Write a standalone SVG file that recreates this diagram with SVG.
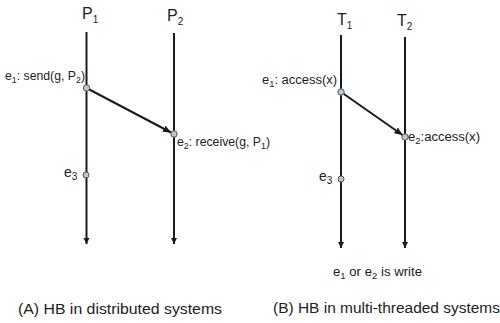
<svg xmlns="http://www.w3.org/2000/svg" width="500" height="323" viewBox="0 0 500 323">
<defs>
<marker id="ah" markerUnits="userSpaceOnUse" markerWidth="8" markerHeight="8" refX="6" refY="3" orient="auto"><path d="M0,0 L6,3 L0,6 z" fill="#1a1a1a"/></marker>
<marker id="ah2" markerUnits="userSpaceOnUse" markerWidth="10" markerHeight="10" refX="8" refY="3.5" orient="auto"><path d="M0,0 L8,3.5 L0,7 z" fill="#1a1a1a"/></marker>
<style>
text{font-family:"Liberation Sans",Arial,sans-serif;fill:#222}
.lbl{font-size:12.5px}
.hd{font-size:16px}
.cap{font-size:14px}
.sub{font-size:9px}
.hsub{font-size:10px}
.life{stroke:#1a1a1a;stroke-width:2;fill:none}
.msg{stroke:#1a1a1a;stroke-width:2;fill:none}
.dot{fill:#b9c7d2;stroke:#555;stroke-width:1}
</style>
</defs>
<g id="P1"><text class="hd" x="82" y="19">P<tspan class="hsub" dy="4">1</tspan></text><line class="life" x1="86.5" y1="32" x2="86.5" y2="244" marker-end="url(#ah)"/></g>
<g id="P2"><text class="hd" x="167" y="21">P<tspan class="hsub" dy="4">2</tspan></text><line class="life" x1="174" y1="33" x2="174" y2="244" marker-end="url(#ah)"/></g>
<g id="T1"><text class="hd" x="337" y="25">T<tspan class="hsub" dy="4">1</tspan></text><line class="life" x1="341" y1="35" x2="341" y2="248" marker-end="url(#ah)"/></g>
<g id="T2"><text class="hd" x="397" y="26">T<tspan class="hsub" dy="4">2</tspan></text><line class="life" x1="405" y1="37" x2="405" y2="248" marker-end="url(#ah)"/></g>
<g id="connectors">
<line class="msg" x1="86.5" y1="88" x2="171" y2="132.5" marker-end="url(#ah2)"/>
<line class="msg" x1="341" y1="92" x2="402.5" y2="135" marker-end="url(#ah2)"/>
</g>
<g id="A_e1"><circle class="dot" cx="86.5" cy="88" r="3.2"/><text class="lbl" x="5" y="80" textLength="80" lengthAdjust="spacingAndGlyphs">e<tspan class="sub" dy="3">1</tspan><tspan dy="-3">: send(g, P</tspan><tspan class="sub" dy="3">2</tspan><tspan dy="-3">)</tspan></text></g>
<g id="A_e2"><circle class="dot" cx="174" cy="134" r="3.2"/><text class="lbl" x="177" y="146" textLength="93" lengthAdjust="spacingAndGlyphs">e<tspan class="sub" dy="3">2</tspan><tspan dy="-3">: receive(g, P</tspan><tspan class="sub" dy="3">1</tspan><tspan dy="-3">)</tspan></text></g>
<g id="A_e3"><circle class="dot" cx="86" cy="175" r="3"/><text class="lbl" x="64" y="177" style="font-size:14px">e<tspan class="hsub" dy="3">3</tspan></text></g>
<g id="B_e1"><circle class="dot" cx="341" cy="92" r="3.2"/><text class="lbl" x="262" y="84" textLength="75" lengthAdjust="spacingAndGlyphs">e<tspan class="sub" dy="3">1</tspan><tspan dy="-3">: access(x)</tspan></text></g>
<g id="B_e2"><circle class="dot" cx="405" cy="137" r="3.2"/><text class="lbl" x="408" y="141" textLength="72" lengthAdjust="spacingAndGlyphs">e<tspan class="sub" dy="3">2</tspan><tspan dy="-3">:access(x)</tspan></text></g>
<g id="B_e3"><circle class="dot" cx="341" cy="179" r="3"/><text class="lbl" x="319" y="181" style="font-size:14px">e<tspan class="hsub" dy="3">3</tspan></text></g>
<text class="lbl" x="333" y="276" textLength="89" lengthAdjust="spacingAndGlyphs">e<tspan class="sub" dy="3">1</tspan><tspan dy="-3"> or e</tspan><tspan class="sub" dy="3">2</tspan><tspan dy="-3"> is write</tspan></text>
<text class="cap" x="18" y="314" textLength="204" lengthAdjust="spacingAndGlyphs">(A) HB in distributed systems</text>
<text class="cap" x="273" y="313" textLength="227" lengthAdjust="spacingAndGlyphs">(B) HB in multi-threaded systems</text>
</svg>
